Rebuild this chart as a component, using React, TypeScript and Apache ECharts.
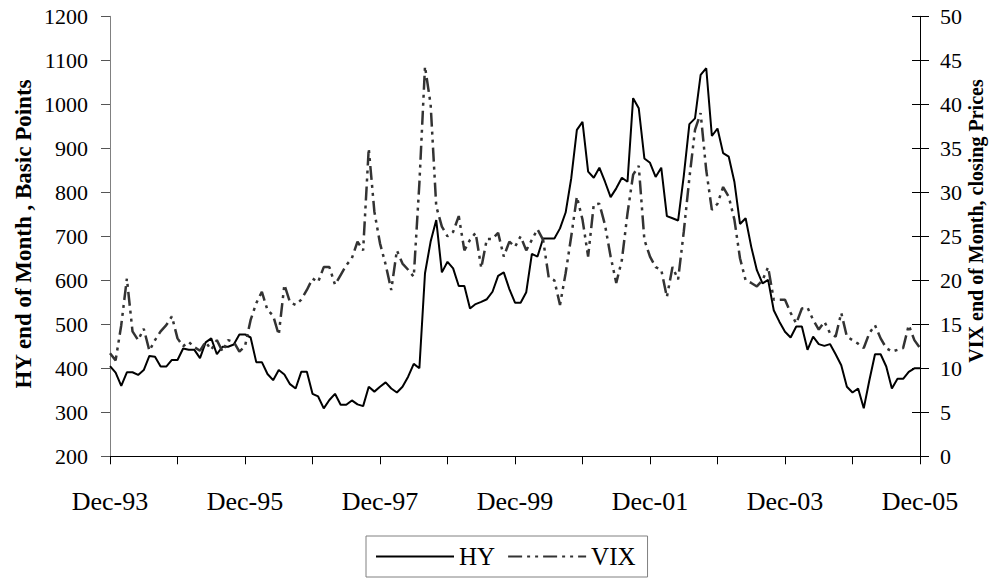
import React, { useEffect, useRef } from "react";
import * as echarts from "echarts";

const MONTHS = ["Jan", "Feb", "Mar", "Apr", "May", "Jun", "Jul", "Aug", "Sep", "Oct", "Nov", "Dec"];
const START_YEAR = 1993;
const N_POINTS = 145;
const categories: string[] = [];
for (let i = 0; i < N_POINTS; i++) {
  const m = (11 + i) % 12;
  const y = START_YEAR + Math.floor((11 + i) / 12);
  categories.push(MONTHS[m] + "-" + String(y % 100).padStart(2, "0"));
}

const hyValues = [
  405, 390, 360, 391, 391, 385, 396, 428, 426, 404, 404, 419,
  419, 445, 442, 442, 423, 459, 468, 432, 449, 449, 454, 477,
  477, 470, 414, 414, 387, 373, 396, 386, 364, 354, 392, 392,
  342, 336, 309, 328, 342, 317, 317, 327, 318, 314, 358, 347,
  358, 368, 354, 345, 358, 381, 410, 400, 616, 688, 737, 618,
  642, 627, 587, 587, 536, 546, 551, 557, 574, 610, 618, 580,
  549, 549, 573, 660, 654, 695, 695, 695, 718, 754, 832, 942,
  960, 847, 833, 856, 824, 789, 809, 833, 824, 1014, 991, 877,
  867, 835, 856, 746, 741, 736, 837, 955, 968, 1067, 1082, 928,
  945, 889, 881, 824, 728, 741, 676, 623, 593, 601, 532, 506,
  483, 470, 495, 495, 442, 472, 455, 451, 455, 432, 407, 358,
  345, 354, 309, 373, 432, 432, 404, 354, 376, 376, 392, 400,
  400,
];

const vixValues = [
  11.7, 10.9, 14.9, 20.2, 14.2, 13.2, 14.5, 12.0, 13.2, 14.2, 14.9, 15.9,
  13.4, 12.5, 13.0, 12.4, 12.0, 13.0, 12.1, 13.2, 11.9, 13.2, 13.0, 11.9,
  12.5, 15.5, 17.4, 18.7, 16.6, 16.0, 13.8, 19.5, 17.5, 17.2, 17.8, 18.9,
  20.2, 19.8, 21.5, 21.5, 19.5, 20.6, 21.7, 22.5, 24.4, 23.4, 35.0, 27.8,
  24.2, 21.8, 18.9, 23.4, 21.9, 21.2, 20.4, 31.0, 44.3, 40.0, 28.4, 26.1,
  25.0, 25.5, 27.3, 23.4, 24.6, 25.4, 21.4, 24.7, 24.7, 25.4, 22.7, 24.4,
  23.8, 25.0, 23.4, 24.6, 25.8, 24.6, 20.3, 20.0, 17.2, 20.8, 25.0, 29.5,
  26.9, 22.7, 28.6, 28.7, 26.3, 22.7, 19.7, 22.3, 27.6, 32.0, 33.0, 24.6,
  22.7, 21.5, 21.2, 18.1, 21.5, 20.1, 25.5, 31.6, 37.1, 39.0, 32.5, 28.0,
  28.7, 30.6, 29.5, 26.9, 22.5, 20.0, 19.7, 19.3, 20.0, 21.5, 17.8, 17.8,
  17.8, 16.3, 15.1, 16.8, 16.9, 15.5, 14.4, 15.3, 14.0, 13.6, 16.3, 13.6,
  13.2, 12.8, 12.3, 14.0, 14.9, 13.4, 12.3, 11.9, 12.1, 12.3, 14.9, 13.2,
  12.3,
];

const FONT = "'Liberation Serif', 'Times New Roman', serif";

export default function App() {
  const ref = useRef<HTMLDivElement>(null);

  useEffect(() => {
    if (!ref.current) return;
    const chart = echarts.init(ref.current, undefined, { renderer: "svg" });
    chart.setOption({
      animation: false,
      backgroundColor: "#ffffff",
      textStyle: { fontFamily: FONT, color: "#000" },
      grid: { left: 110, right: 80, top: 16.3, bottom: 125.7, containLabel: false },
      legend: {
        data: ["HY", "VIX"],
        left: 366,
        top: 536,
        orient: "horizontal",
        itemWidth: 78,
        itemHeight: 14,
        itemGap: 12,
        padding: [8, 12, 8, 9],
        borderColor: "#808080",
        borderWidth: 1,
        itemStyle: { color: "rgba(0,0,0,0)", borderColor: "rgba(0,0,0,0)", borderWidth: 0, opacity: 0 },
        textStyle: { fontFamily: FONT, fontSize: 25, color: "#000" },
      },
      xAxis: {
        type: "category",
        data: categories,
        boundaryGap: false,
        axisLine: { show: true, lineStyle: { color: "#000", width: 1 } },
        axisTick: {
          show: true,
          length: 8,
          interval: (i: number) => i % 12 === 0,
          lineStyle: { color: "#000" },
        },
        axisLabel: {
          interval: (i: number) => i % 24 === 0,
          fontFamily: FONT,
          fontSize: 26,
          color: "#000",
          margin: 32,
          showMaxLabel: true,
        },
        splitLine: { show: false },
      },
      yAxis: [
        {
          type: "value",
          position: "left",
          min: 200,
          max: 1200,
          interval: 100,
          axisLine: { show: true, lineStyle: { color: "#808080", width: 1 } },
          axisTick: { show: true, length: 9, lineStyle: { color: "#555" } },
          axisLabel: {
            fontFamily: FONT,
            fontSize: 22,
            color: "#000",
            margin: 22,
            formatter: (v: number) => String(v),
          },
          splitLine: { show: false },
        },
        {
          type: "value",
          position: "right",
          min: 0,
          max: 50,
          interval: 5,
          axisLine: { show: true, lineStyle: { color: "#000", width: 1 } },
          axisTick: { show: true, length: 9, lineStyle: { color: "#000" } },
          axisLabel: {
            fontFamily: FONT,
            fontSize: 22,
            color: "#000",
            margin: 20,
            formatter: (v: number) => String(v),
          },
          splitLine: { show: false },
        },
        {
          type: "value",
          position: "right",
          min: 0,
          max: 50,
          interval: 5,
          axisLine: { show: false },
          axisTick: { show: true, inside: true, length: 8, lineStyle: { color: "#000" } },
          axisLabel: { show: false },
          splitLine: { show: false },
        },
      ],
      series: [
        {
          name: "HY",
          type: "line",
          yAxisIndex: 0,
          data: hyValues,
          symbol: "none",
          lineStyle: { color: "#000", width: 2 },
          itemStyle: { color: "#000" },
        },
        {
          name: "VIX",
          type: "line",
          yAxisIndex: 1,
          data: vixValues,
          symbol: "none",
          lineStyle: { color: "#333", width: 2.5, type: [14, 5, 3, 5, 3, 5] },
          itemStyle: { color: "#333" },
        },
      ],
      graphic: [
        {
          type: "text",
          x: 23,
          y: 234,
          rotation: Math.PI / 2,
          style: {
            text: "HY end of Month , Basic Points",
            fontFamily: FONT,
            fontSize: 23,
            fontWeight: "bold",
            fill: "#000",
            textAlign: "center",
            textVerticalAlign: "middle",
          },
        },
        {
          type: "text",
          x: 976,
          y: 221,
          rotation: Math.PI / 2,
          style: {
            text: "VIX end of Month, closing Prices",
            fontFamily: FONT,
            fontSize: 20,
            fontWeight: "bold",
            fill: "#000",
            textAlign: "center",
            textVerticalAlign: "middle",
          },
        },
      ],
    });
    return () => chart.dispose();
  }, []);

  return (
    <div
      ref={ref}
      style={{ position: "fixed", left: 0, top: 0, width: "1000px", height: "582px", background: "#fff" }}
    />
  );
}
